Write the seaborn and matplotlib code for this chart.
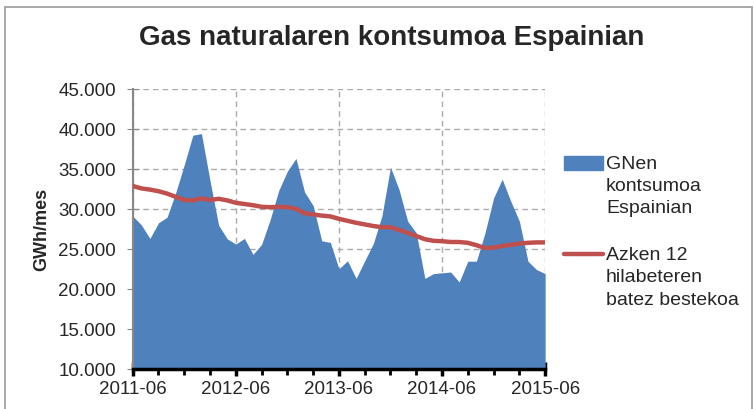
import numpy as np
import pandas as pd
import matplotlib
matplotlib.use("Agg")
import matplotlib.pyplot as plt
import matplotlib.transforms as mtransforms
import seaborn as sns
from matplotlib.ticker import FuncFormatter, MultipleLocator
from matplotlib.patches import Patch, Rectangle
from matplotlib.lines import Line2D
from matplotlib.legend_handler import HandlerPatch, HandlerLine2D

# monthly data, 2011-06 .. 2015-06 (GWh/mes)
consumption = [29100, 28000, 26300, 28250, 28950, 32000, 35500, 39200, 39400, 33500,
               27950, 26250, 25600, 26300, 24300, 25550, 28650, 32300, 34700, 36300,
               32100, 30400, 26000, 25800, 22500, 23500, 21300, 23500, 25650, 29100,
               35200, 32400, 28450, 27000, 21300, 21900, 22000, 22100, 20850, 23450,
               23450, 27000, 31350, 33700, 30950, 28450, 23450, 22400, 21900]
moving_avg = [32850, 32550, 32400, 32200, 31900, 31500, 31100, 31050, 31300, 31100,
              31250, 31050, 30750, 30600, 30450, 30250, 30200, 30250, 30200, 30000,
              29450, 29300, 29150, 29050, 28750, 28500, 28250, 28050, 27850, 27700,
              27700, 27350, 27000, 26600, 26200, 26000, 25950, 25850, 25850, 25750,
              25450, 25100, 25150, 25350, 25500, 25650, 25750, 25800, 25800]
tick_labels = ["2011-06", "2012-06", "2013-06", "2014-06", "2015-06"]

df = pd.DataFrame({"month": np.arange(len(consumption)),
                   "consumo": consumption, "media": moving_avg})

sns.set_style("white")
plt.rcParams["font.family"] = ["Liberation Sans", "DejaVu Sans"]

fig = plt.figure(figsize=(7.54, 4.10), dpi=100)
ax = fig.add_axes([0.176, 0.098, 0.547, 0.683])

blue = "#4F81BD"
red = "#C0504D"

ax.fill_between(df["month"], 10000, df["consumo"], color=blue, lw=0, zorder=2)
sns.lineplot(data=df, x="month", y="media", color=red, lw=3.2, ax=ax, zorder=3)

ax.set_xlim(0, len(consumption) - 1)
ax.set_ylim(10000, 45000)
ax.yaxis.set_major_locator(MultipleLocator(5000))
ax.yaxis.set_major_formatter(FuncFormatter(lambda v, p: f"{int(v):,}".replace(",", ".")))
ax.set_xticks(np.arange(0, len(consumption), 12))
ax.set_xticklabels(tick_labels)
ax.xaxis.set_minor_locator(MultipleLocator(3))

ax.grid(True, color="#aaaaaa", ls=(0, (4, 3)), lw=1, zorder=1)
ax.set_axisbelow(True)
for s in ["top", "right"]:
    ax.spines[s].set_visible(False)
ax.spines["left"].set_color("#888888")
ax.spines["left"].set_linewidth(1.5)
ax.spines["bottom"].set_color("black")
ax.spines["bottom"].set_linewidth(2.5)
ax.spines["bottom"].set_zorder(5)

ax.tick_params(axis="y", which="major", direction="inout", length=9, color="#888888",
               labelsize=13.5, pad=7.5, left=True)
ax.tick_params(axis="x", which="major", direction="inout", length=10, width=2.5,
               color="black", labelsize=13.5, pad=3, bottom=True)
ax.tick_params(axis="x", which="minor", direction="out", length=4, width=2,
               color="black", bottom=True)

ax.set_xlabel("")
ax.set_ylabel("GWh/mes", fontsize=13, fontweight="bold", labelpad=6)
fig.suptitle("Gas naturalaren kontsumoa Espainian", fontsize=20, fontweight="bold",
             x=0.52, y=0.94)


# legend handles sit next to the first line of each label
def raised(base, off):
    class H(base):
        def create_artists(self, legend, orig_handle, xdescent, ydescent,
                           width, height, fontsize, trans):
            t2 = mtransforms.Affine2D().translate(0, off) + trans
            return super().create_artists(legend, orig_handle, xdescent, ydescent,
                                          width, height, fontsize, t2)
    return H()


handles = [Patch(color=blue), Line2D([0], [0], color=red, lw=3.2,
                                     solid_capstyle="round")]
labels = ["GNen\nkontsumoa\nEspainian", "Azken 12\nhilabeteren\nbatez bestekoa"]
leg = fig.legend(handles, labels, loc="upper left", bbox_to_anchor=(0.725, 0.663),
                 frameon=False, fontsize=14, handlelength=2.0, handletextpad=0.15,
                 labelspacing=1.55,
                 handler_map={Patch: raised(HandlerPatch, 16),
                              Line2D: raised(HandlerLine2D, 16)})
for t in leg.get_texts():
    t.set_linespacing(1.4)

fig.patches.append(Rectangle((5 / 754, -0.1), 1 - 7 / 754, 1 - 8 / 410 + 0.1,
                             transform=fig.transFigure, fill=False,
                             edgecolor="#999999", lw=1.2))

fig.savefig("out.png", dpi=100)
